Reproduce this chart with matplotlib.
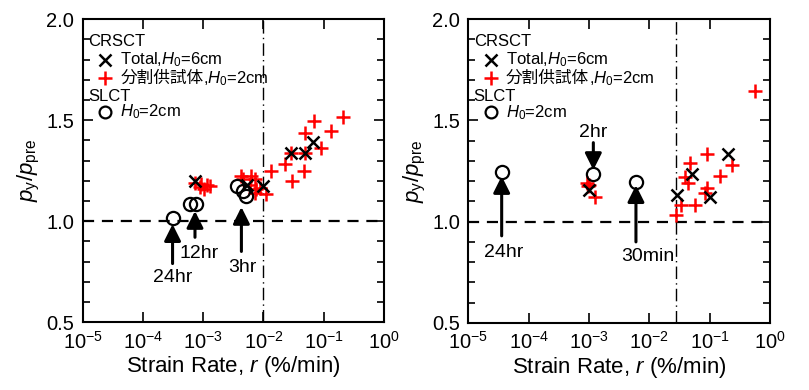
import matplotlib
matplotlib.use("Agg")
import matplotlib.pyplot as plt
from matplotlib.ticker import MultipleLocator, FixedLocator, NullLocator

plt.rcParams['font.family'] = ['Liberation Sans', 'Noto Sans CJK JP', 'DejaVu Sans']
plt.rcParams['mathtext.fontset'] = 'custom'
plt.rcParams['mathtext.rm'] = 'Liberation Sans'
plt.rcParams['mathtext.it'] = 'Liberation Sans:italic'
plt.rcParams['mathtext.bf'] = 'Liberation Sans:bold'

# ---- data: left panel ----
L_total_x = [0.00073, 0.0053, 0.0099, 0.029, 0.049, 0.066]
L_total_y = [1.20, 1.18, 1.175, 1.337, 1.337, 1.39]
L_split_x = [0.00073, 0.00093, 0.00088, 0.00115, 0.0013, 0.00105,
             0.0043, 0.0063, 0.0046, 0.0072, 0.0059, 0.0076, 0.0072, 0.0087, 0.011,
             0.0135, 0.023, 0.030, 0.029, 0.049, 0.047, 0.049, 0.089, 0.069, 0.13, 0.21]
L_split_y = [1.19, 1.186, 1.169, 1.179, 1.174, 1.158,
             1.224, 1.224, 1.207, 1.207, 1.18, 1.157, 1.14, 1.166, 1.133,
             1.249, 1.285, 1.199, 1.337, 1.337, 1.249, 1.436, 1.36, 1.497, 1.448, 1.517]
L_slct_x = [0.00031, 0.0006, 0.00076, 0.0037, 0.0045, 0.0052]
L_slct_y = [1.016, 1.083, 1.083, 1.174, 1.149, 1.124]
L_rate_line = 0.01

# ---- data: right panel ----
R_total_x = [0.001, 0.029, 0.051, 0.1, 0.204]
R_total_y = [1.156, 1.132, 1.235, 1.123, 1.334]
R_split_x = [0.00092, 0.001, 0.00097, 0.00126, 0.028, 0.034, 0.057, 0.085, 0.089,
             0.043, 0.039, 0.047, 0.089, 0.148, 0.232, 0.565]
R_split_y = [1.19, 1.18, 1.175, 1.123, 1.033, 1.082, 1.082, 1.143, 1.165,
             1.19, 1.222, 1.288, 1.334, 1.225, 1.280, 1.646]
R_slct_x = [3.57e-5, 0.00118, 0.006]
R_slct_y = [1.247, 1.235, 1.197]
R_rate_line = 0.028

# arrows: (label, x, y_start, y_tip, label_x, label_y)
L_arrows = [("24hr", 0.00031, 0.79, 0.985, 0.00031, 0.72),
            ("12hr", 0.00073, 0.92, 1.05, 0.00085, 0.84),
            ("3hr", 0.0043, 0.85, 1.07, 0.0045, 0.77)]
R_arrows = [("24hr", 3.57e-5, 0.93, 1.225, 3.9e-5, 0.85),
            ("2hr", 0.00118, 1.39, 1.255, 0.00118, 1.44),
            ("30min", 0.006, 0.90, 1.18, 0.0095, 0.83)]

x_ticks = [1e-5, 1e-4, 1e-3, 1e-2, 1e-1, 1e0]
x_ticklabels = ["$10^{-5}$", "$10^{-4}$", "$10^{-3}$", "$10^{-2}$", "$10^{-1}$", "$10^{0}$"]
y_ticks = [0.5, 1.0, 1.5, 2.0]
y_ticklabels = ["0.5", "1.0", "1.5", "2.0"]

fig = plt.figure(figsize=(8.09, 3.90), dpi=100)
axL = fig.add_axes([0.1022, 0.174, 0.3725, 0.777])
axR = fig.add_axes([0.5789, 0.172, 0.3729, 0.779])

ms = 10
mew = 1.8

def setup(ax, tot_x, tot_y, spl_x, spl_y, sl_x, sl_y, vline, arrows):
    ax.set_xscale('log')
    ax.set_xlim(1e-5, 1e0)
    ax.set_ylim(0.5, 2.0)
    ax.axhline(1.0, color='black', ls=(0, (5, 3.5)), lw=1.6, zorder=1)
    ax.axvline(vline, color='black', ls=(0, (9, 3, 1, 3)), lw=1.0, zorder=1)
    ax.plot(spl_x, spl_y, ls='none', marker='+', ms=ms, mew=mew, color='#ff0000', zorder=3)
    ax.plot(tot_x, tot_y, ls='none', marker='x', ms=ms * 0.9, mew=mew, color='black', zorder=4)
    ax.plot(sl_x, sl_y, ls='none', marker='o', ms=ms * 0.95, mew=1.6, mfc='none', mec='black', zorder=4)
    for lab, x, y0, y1, lx, ly in arrows:
        ax.annotate("", xy=(x, y1), xytext=(x, y0),
                    arrowprops=dict(arrowstyle='-|>,head_length=1.0,head_width=0.5',
                                    lw=2.2, color='black', shrinkA=0, shrinkB=0), zorder=5)
        ax.text(lx, ly, lab, ha='center', va='center', fontsize=14)
    ax.xaxis.set_major_locator(FixedLocator(x_ticks))
    ax.xaxis.set_minor_locator(NullLocator())
    ax.set_xticklabels(x_ticklabels)
    ax.yaxis.set_major_locator(FixedLocator(y_ticks))
    ax.yaxis.set_minor_locator(MultipleLocator(0.1))
    ax.set_yticklabels(y_ticklabels)
    ax.tick_params(which='both', direction='in', top=True, right=True, labelsize=14.5, width=1.2)
    ax.tick_params(which='major', length=7)
    ax.tick_params(which='minor', length=5)
    ax.tick_params(axis='x', pad=6)
    ax.tick_params(axis='y', pad=6)
    for s in ax.spines.values():
        s.set_linewidth(1.5)
    ax.set_xlabel("Strain Rate, $r$ (%/min)", fontsize=16, labelpad=1)
    ax.set_ylabel("$p_\\mathrm{y}/p_\\mathrm{pre}$", fontsize=16, labelpad=3)

    # legend
    fs = 12
    tr = ax.transAxes
    ax.text(0.018, 0.925, "CRSCT", transform=tr, fontsize=fs, va='center', ha='left')
    ax.plot([0.074], [0.865], transform=tr, marker='x', ms=ms * 0.9, mew=mew, color='black', ls='none')
    ax.text(0.125, 0.865, "Total,$H_0$=6cm", transform=tr, fontsize=fs, va='center', ha='left')
    ax.plot([0.074], [0.805], transform=tr, marker='+', ms=ms, mew=mew, color='#ff0000', ls='none')
    t1 = ax.text(0.125, 0.805, "分割供試体", transform=tr, fontsize=fs, va='center', ha='left',
                 family=['Noto Sans CJK JP', 'DejaVu Sans'])
    ax.annotate(",$H_0$=2cm", xy=(1.0, 0.5), xycoords=t1, xytext=(0, 0), textcoords='offset points',
                fontsize=fs, va='center', ha='left')
    ax.text(0.018, 0.745, "SLCT", transform=tr, fontsize=fs, va='center', ha='left')
    ax.plot([0.074], [0.693], transform=tr, marker='o', ms=ms * 0.85, mew=1.6, mfc='none', mec='black', ls='none')
    ax.text(0.125, 0.693, "$H_0$=2cm", transform=tr, fontsize=fs, va='center', ha='left')

setup(axL, L_total_x, L_total_y, L_split_x, L_split_y, L_slct_x, L_slct_y, L_rate_line, L_arrows)
setup(axR, R_total_x, R_total_y, R_split_x, R_split_y, R_slct_x, R_slct_y, R_rate_line, R_arrows)

fig.savefig("out.png", dpi=100)
